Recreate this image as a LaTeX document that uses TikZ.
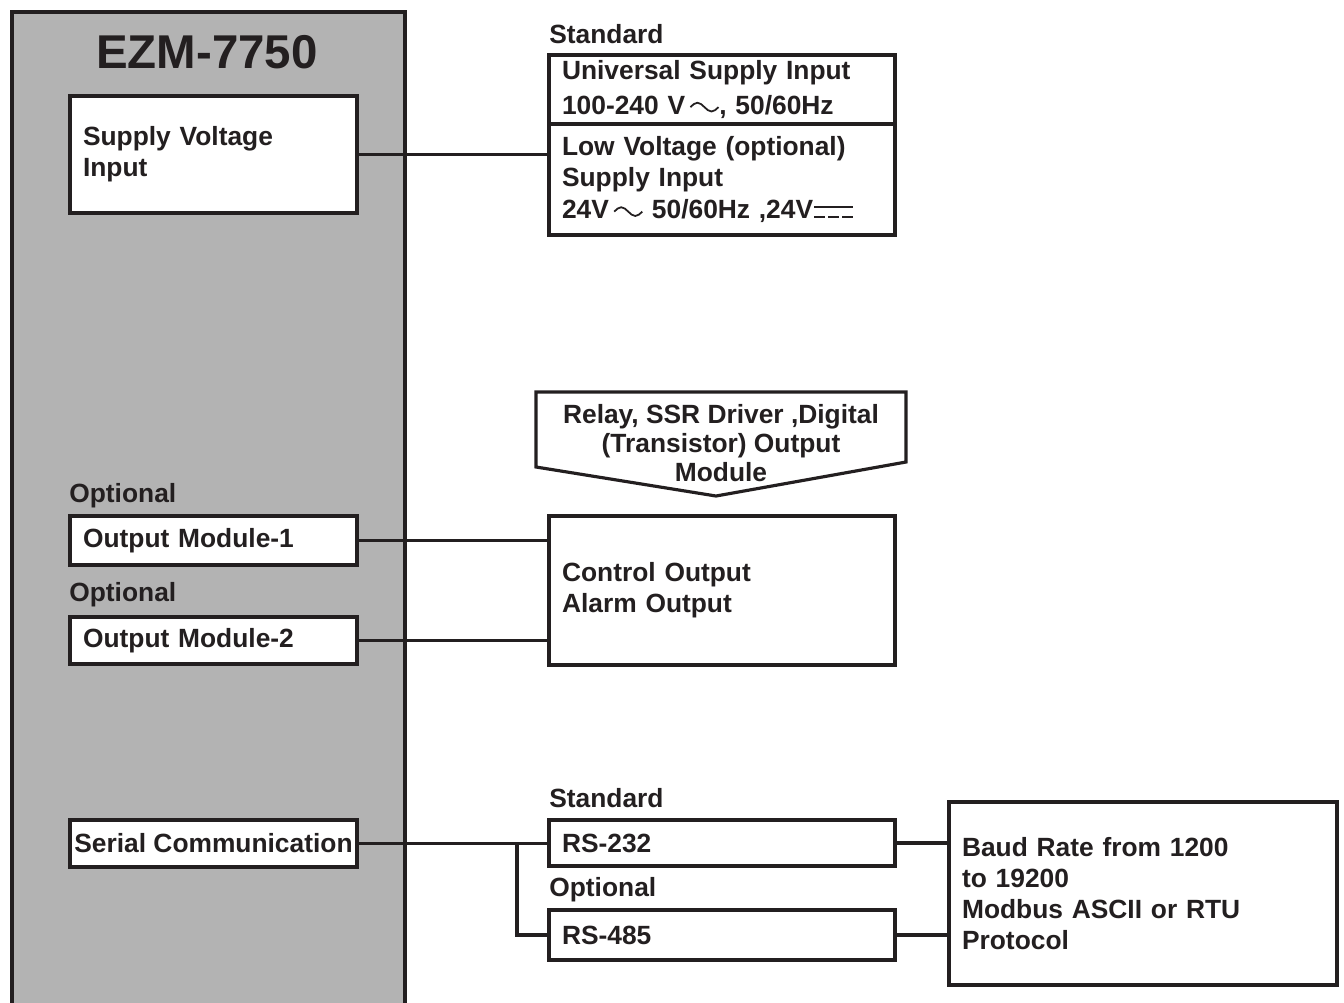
\documentclass[tikz,border=0pt]{standalone}
\usepackage{fontspec}
\setmainfont{Liberation Sans}
\usetikzlibrary{calc}

\definecolor{ink}{HTML}{231F20}
\definecolor{panel}{HTML}{B3B3B3}
\newcommand{\acwave}{\tikz[baseline=0pt]\draw[line width=1pt, ink] (0pt,4pt) sin (4pt,6.5pt) cos (8pt,4pt) sin (12pt,1.5pt) cos (16pt,4pt);}
\newcommand{\dcmark}{\tikz[baseline=0pt]{\draw[line width=1.1pt, ink] (0pt,6.5pt) -- (22pt,6.5pt);
    \draw[line width=1.1pt, ink, dash pattern=on 6pt off 2pt] (0pt,1.2pt) -- (22pt,1.2pt);}}

\begin{document}
\begin{tikzpicture}[x=0.02cm, y=-0.02cm, color=ink,
    font=\fontsize{15}{17.5}\selectfont\bfseries,
    box/.style={draw, fill=white, line width=1.8pt, inner xsep=0.26cm, inner ysep=0pt, align=left},
    tag/.style={anchor=west, inner xsep=0pt},
    wire/.style={line width=1.8pt}]
        \useasboundingbox (0,0) rectangle (1344,1002);
%        \draw [help lines] (0,0) grid[step=100] (1344,1002);
        \draw [fill=panel, line width=1.8pt] (12,12) rectangle (405,1040);
        \node [font=\fontsize{27}{30}\selectfont\bfseries] (title) at (207,52) {EZM-7750};

        % supply
        \node [box, text width=5.22cm, minimum height=2.34cm] (supin) at (213.5,154.5) {Supply Voltage\\Input};
        \node [tag] (std1) at (549,34) {Standard};
        \node [box, text width=6.40cm, minimum height=1.38cm] (univ) at (722,89.5)
            {Universal Supply Input\\[2pt]100-240 V\,\acwave, 50/60Hz};
        \node [box, text width=6.40cm, minimum height=2.22cm] (lowv) at (722,179.5)
            {Low Voltage (optional)\\Supply Input\\[1pt]24V\,\acwave\ 50/60Hz ,24V\dcmark};

        % outputs
        \draw [fill=white, line width=1.8pt] (536,392) -- (906,392) -- (906,462) -- (716,496) -- (536,467) -- cycle;
        \node [align=center, font=\fontsize{15}{16.7}\selectfont\bfseries] (relay) at (721,443)
            {Relay, SSR Driver ,Digital\\(Transistor) Output\\Module};
        \node [tag] (opt1) at (69,496) {Optional};
        \node [box, text width=5.22cm, minimum height=0.98cm] (out1) at (213.5,540.5) {Output Module-1};
        \node [tag] (opt2) at (69,595) {Optional};
        \node [box, text width=5.22cm, minimum height=0.94cm] (out2) at (213.5,640.5) {Output Module-2};
        \node [box, text width=6.40cm, minimum height=2.98cm] (ctrl) at (722,590.5) {Control Output\\Alarm Output};

        % serial
        \node [box, align=center, inner xsep=0pt, minimum width=5.74cm, minimum height=0.94cm] (serial) at (213.5,843.5) {Serial Communication};
        \node [tag] (std2) at (549,798) {Standard};
        \node [box, text width=6.40cm, minimum height=0.92cm] (rs232) at (722,843) {RS-232};
        \node [tag] (opt3) at (549,890) {Optional};
        \node [box, text width=6.40cm, minimum height=1cm] (rs485) at (722,935) {RS-485};
        \node [box, text width=7.24cm, minimum height=3.66cm] (baud) at (1143,893.5)
            {Baud Rate from 1200\\to 19200\\Modbus ASCII or RTU\\Protocol};

        % wires
        \draw [wire] (supin.east) -- (supin.east -| lowv.west);
        \draw [wire] (out1.east) -- (out1.east -| ctrl.west);
        \draw [wire] (out2.east) -- (out2.east -| ctrl.west);
        \draw [wire] (serial.east) -- (serial.east -| rs232.west);
        \coordinate (fork) at (517,843.5);
        \draw [wire] (fork) |- (rs485.west);
        \draw [wire] (rs232.east) -- (rs232.east -| baud.west);
        \draw [wire] (rs485.east) -- (rs485.east -| baud.west);
\end{tikzpicture}
\end{document}
